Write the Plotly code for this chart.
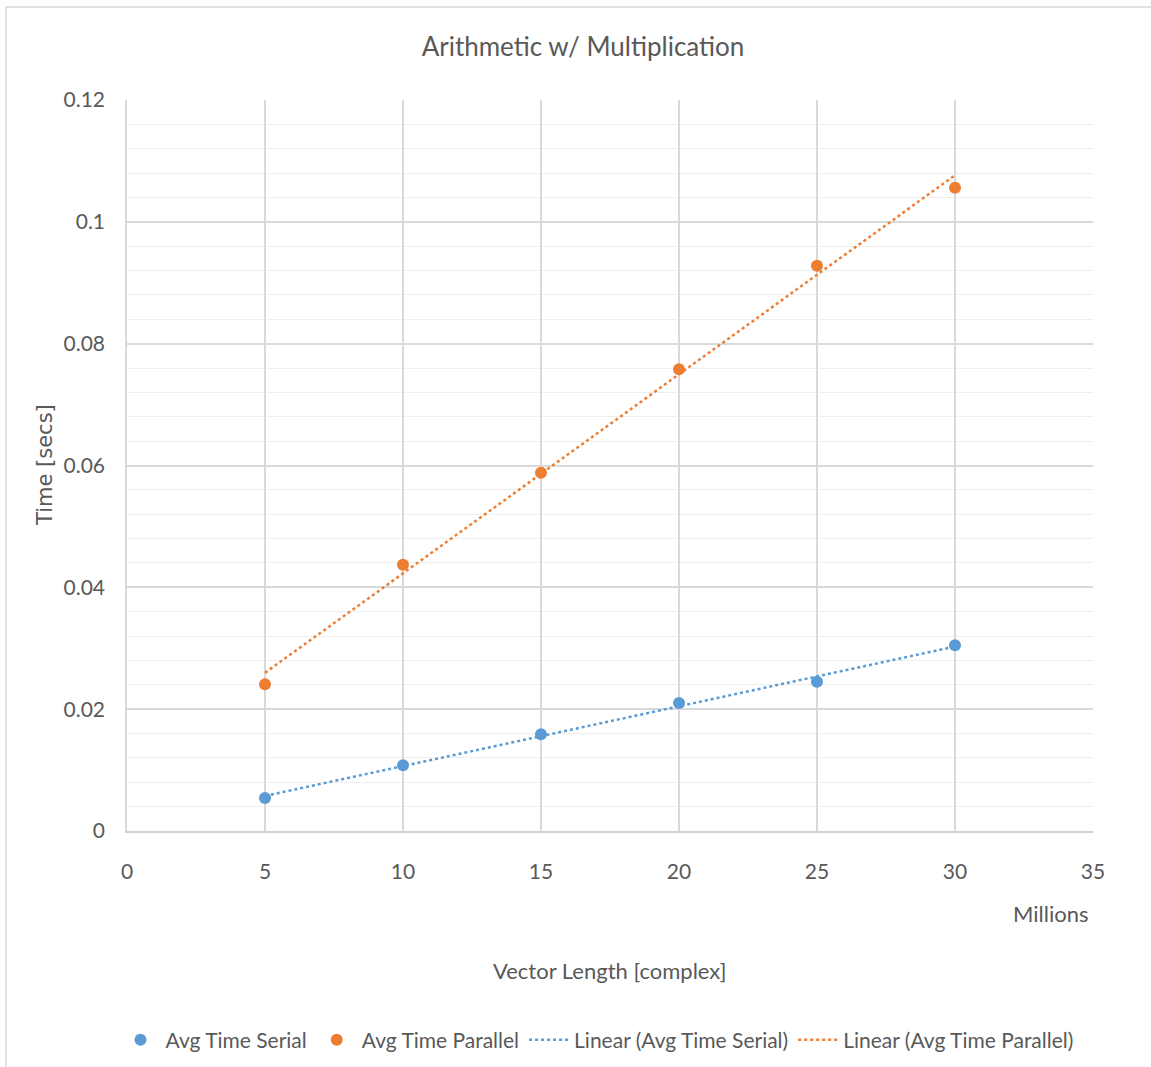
import numpy as np
import plotly.graph_objects as go

x_millions = [5, 10, 15, 20, 25, 30]
serial = [0.0054, 0.0108, 0.0159, 0.0210, 0.0245, 0.0305]
parallel = [0.0241, 0.0437, 0.0588, 0.0758, 0.0928, 0.1056]
x_ticks = [0, 5, 10, 15, 20, 25, 30, 35]
y_ticks = [0, 0.02, 0.04, 0.06, 0.08, 0.1, 0.12]

BLUE = "#5b9bd5"
ORANGE = "#ed7d31"
TXT = "#595959"
FONT = "Lato, 'Open Sans', sans-serif"

def linfit(xs, ys):
    k, b = np.polyfit(xs, ys, 1)
    xe = [min(xs), max(xs)]
    return xe, [k * v + b for v in xe]

fig = go.Figure()
fig.add_trace(go.Scatter(x=x_millions, y=serial, mode="markers", name="Avg Time Serial",
                         marker=dict(color=BLUE, size=12)))
fig.add_trace(go.Scatter(x=x_millions, y=parallel, mode="markers", name="Avg Time Parallel",
                         marker=dict(color=ORANGE, size=12)))
sx, sy = linfit(x_millions, serial)
px, py = linfit(x_millions, parallel)
fig.add_trace(go.Scatter(x=sx, y=sy, mode="lines", name="Linear (Avg Time Serial)",
                         line=dict(color=BLUE, width=2.5, dash="dot")))
fig.add_trace(go.Scatter(x=px, y=py, mode="lines", name="Linear (Avg Time Parallel)",
                         line=dict(color=ORANGE, width=2.5, dash="dot")))

L, R, T, B = 127, 58, 100, 236
W, H = 1151, 1067
pw, ph = W - L - R, H - T - B

fig.update_layout(
    width=W, height=H,
    margin=dict(l=L, r=R, t=T, b=B, autoexpand=False),
    paper_bgcolor="white", plot_bgcolor="white",
    font=dict(family=FONT, color=TXT, size=20),
    title=dict(text="Arithmetic w/ Multiplication", x=583 / W, xanchor="center",
               y=1 - 47 / H, yanchor="middle", yref="container",
               font=dict(size=26, color=TXT, family=FONT)),
    showlegend=True,
    legend=dict(orientation="h", x=(597 - L) / pw, xanchor="center",
                y=(H - B - 1040) / ph, yanchor="middle",
                font=dict(size=21, color=TXT), itemwidth=40),
    xaxis=dict(range=[0, 35], tickvals=x_ticks, showgrid=True, gridcolor="#d9d9d9", gridwidth=1.5,
               zeroline=False, showline=True, linecolor="#d0d0d0", linewidth=2,
               ticks="", tickfont=dict(size=21, color=TXT), ticklabelstandoff=21),
    yaxis=dict(range=[0, 0.12], tickvals=y_ticks, showgrid=True, gridcolor="#d9d9d9", gridwidth=1.5,
               zeroline=False, showline=True, linecolor="#d9d9d9", linewidth=1.5,
               ticks="", tickfont=dict(size=21, color=TXT), ticklabelstandoff=16,
               minor=dict(dtick=0.004, showgrid=True, gridcolor="#eeeeee", gridwidth=1.2)),
)

fig.add_annotation(text="Time [secs]", xref="paper", yref="paper", x=(45 - L) / pw, y=(H - B - 465) / ph,
                   textangle=-90, showarrow=False,
                   font=dict(size=21, color=TXT, family="'DejaVu Sans', sans-serif"),
                   xanchor="center", yanchor="middle")
fig.add_annotation(text="Vector Length [complex]", xref="paper", yref="paper", x=(610 - L) / pw,
                   y=(H - B - 970) / ph, showarrow=False, font=dict(size=22, color=TXT),
                   xanchor="center", yanchor="middle")
fig.add_annotation(text="Millions", xref="paper", yref="paper", x=(1050 - L) / pw,
                   y=(H - B - 913) / ph, showarrow=False, font=dict(size=22, color=TXT),
                   xanchor="center", yanchor="middle")

fig.add_shape(type="rect", xref="paper", yref="paper",
              x0=(6 - L) / pw, x1=(W + 5 - L) / pw, y0=(H - B - (H + 5)) / ph, y1=(H - B - 7) / ph,
              line=dict(color="#d9d9d9", width=1.5), fillcolor="rgba(0,0,0,0)", layer="below")

fig.write_html("out.html")
